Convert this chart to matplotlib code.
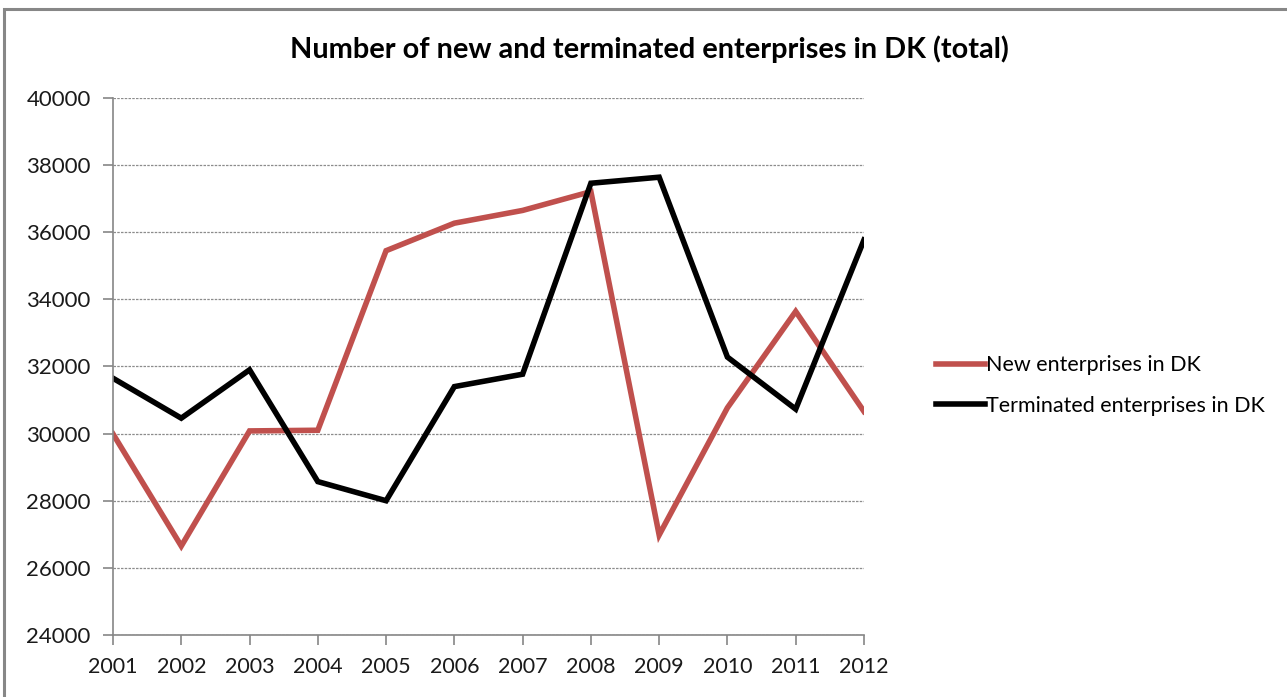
import matplotlib.pyplot as plt
from matplotlib.patches import Rectangle

years = ['2001', '2002', '2003', '2004', '2005', '2006', '2007', '2008', '2009', '2010', '2011', '2012']
new_enterprises = [29990, 26650, 30080, 30100, 35450, 36270, 36650, 37210, 26980, 30770, 33640, 30660]
terminated_enterprises = [31650, 30460, 31900, 28570, 28000, 31400, 31770, 37460, 37640, 32280, 30730, 35770]
y_ticks = [24000, 26000, 28000, 30000, 32000, 34000, 36000, 38000, 40000]

plt.rcParams['font.family'] = ['Lato', 'DejaVu Sans']

fig = plt.figure(figsize=(12.87, 6.97), dpi=100)
ax = fig.add_axes([0.0878, 0.089, 0.5835, 0.7704])

x = range(len(years))
ax.plot(x, new_enterprises, color='#c0504d', linewidth=4, label='New enterprises in DK', solid_joinstyle='miter')
ax.plot(x, terminated_enterprises, color='#000000', linewidth=4, label='Terminated enterprises in DK', solid_joinstyle='miter')

ax.set_xlim(0, len(years) - 1)
ax.set_ylim(24000, 40000)
ax.set_yticks(y_ticks)
ax.set_yticklabels([str(v) for v in y_ticks])
ax.set_xticks(list(x))
ax.set_xticklabels(years)
ax.grid(axis='y', color='#8c8c8c', linestyle=(0, (2, 1)), linewidth=0.9)
ax.set_axisbelow(True)

for side in ['top', 'right']:
    ax.spines[side].set_visible(False)
for side in ['left', 'bottom']:
    ax.spines[side].set_color('#868686')
    ax.spines[side].set_linewidth(1.2)
ax.tick_params(axis='y', length=7, color='#868686', width=1.2, labelsize=16, labelcolor='#1a1a1a', pad=9)
ax.tick_params(axis='x', length=7, color='#868686', width=1.2, labelsize=15.5, labelcolor='#1a1a1a', pad=9)

fig.text(0.5045, 0.93, 'Number of new and terminated enterprises in DK (total)', ha='center', va='center',
         fontsize=20.8, fontweight='bold', color='#000000')

fig.legend(loc='center left', bbox_to_anchor=(0.712, 0.447), frameon=False, fontsize=15.5,
           handlelength=2.3, handletextpad=0.05, labelspacing=0.95)

# outer chart border
fig.patches.append(Rectangle((4 / 1287, -0.1), 1.2, 1.1 - 9 / 697, transform=fig.transFigure,
                             fill=False, edgecolor='#878787', linewidth=2.2))

plt.savefig('out.png', dpi=100)
